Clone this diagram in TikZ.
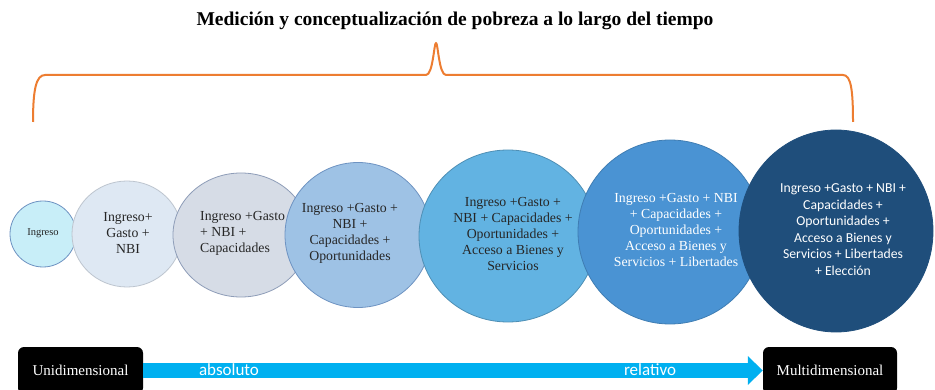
\documentclass[tikz,border=0pt]{standalone}
\usepackage{fontspec}
\setmainfont{Liberation Serif}
\newfontfamily\calib{Carlito}
\usetikzlibrary{shapes.geometric,arrows.meta}
\definecolor{bOne}{HTML}{C8EEF8}
\definecolor{bTwo}{HTML}{DEE8F3}
\definecolor{bThree}{HTML}{D6DCE6}
\definecolor{bFour}{HTML}{9EC2E5}
\definecolor{bFive}{HTML}{62B3E2}
\definecolor{bSix}{HTML}{4A93D3}
\definecolor{bSeven}{HTML}{1F4E7B}
\definecolor{edgeBlue}{HTML}{6E93C2}
\definecolor{edgeGray}{HTML}{8E9DB8}
\definecolor{braceOrange}{HTML}{ED7D31}
\definecolor{arrowCyan}{HTML}{00B0F0}
\definecolor{txtDark}{HTML}{262626}
\begin{document}
\begin{tikzpicture}[x=1pt,y=-1pt,
  bubble/.style={ellipse,inner sep=0pt,draw=edgeBlue,line width=0.8pt},
  btext/.style={align=center,inner sep=0pt,text=txtDark,font=\fontsize{13.8}{16}\selectfont},
  wtext/.style={align=center,inner sep=0pt,text=white,font=\fontsize{13.8}{16}\selectfont},
  blackbox/.style={fill=black,rounded corners=6pt,text=white,inner sep=0pt,font=\fontsize{15}{16}\selectfont},
  scale label/.style={text=white,inner sep=0pt,font=\calib\fontsize{17}{18}\selectfont}
]
\useasboundingbox (0,0) rectangle (935,390);
\fill[white] (0,0) rectangle (935,390);

% title
\node[inner sep=0pt,font=\bfseries\fontsize{19.5}{22}\selectfont] (title) at (455,21) {Medición y conceptualización de pobreza a lo largo del tiempo};

% brace
\draw[braceOrange,line width=2pt,line join=round]
  (33,122) .. controls (33,90) and (36,75) .. (45,75) -- (426,75)
  .. controls (433,75) and (434,43) .. (436,43)
  .. controls (438,43) and (439,75) .. (446,75) -- (843,75)
  .. controls (851,75) and (853,90) .. (853,122);

% bubbles
\node[bubble,fill=bOne,minimum width=66pt,minimum height=66pt] (c1) at (43,234) {};
\node[bubble,fill=bTwo,draw=bTwo!85!black,minimum width=110pt,minimum height=106pt] (c2) at (127,234) {};
\node[bubble,fill=bThree,draw=edgeGray,minimum width=136pt,minimum height=124pt] (c3) at (241,235) {};
\node[bubble,fill=bFour,minimum width=146pt,minimum height=145pt] (c4) at (358,235) {};
\node[bubble,fill=bFive,draw=bFive!80!black,minimum width=178pt,minimum height=172pt] (c5) at (508,236) {};
\node[bubble,fill=bSix,draw=bSix!85!black,minimum width=184pt,minimum height=184pt] (c6) at (670,232) {};
\node[bubble,fill=bSeven,draw=bSeven,minimum width=194pt,minimum height=202pt] (c7) at (836,231) {};

% bubble texts
\node[btext,font=\fontsize{10.5}{12}\selectfont] (t1) at (43,233) {Ingreso};
\node[btext] (t2) at (128,233) {Ingreso+\\Gasto +\\NBI};
\node[btext,align=left,anchor=west] (t3) at (200,233) {Ingreso +Gasto\\+ NBI +\\Capacidades};
\node[btext] (t4) at (350,233) {Ingreso +Gasto +\\NBI +\\Capacidades +\\Oportunidades};
\node[btext] (t5) at (513,233.5) {Ingreso +Gasto +\\NBI + Capacidades +\\Oportunidades +\\Acceso a Bienes y\\Servicios};
\node[wtext] (t6) at (676,230) {Ingreso +Gasto + NBI\\+ Capacidades +\\Oportunidades +\\Acceso a Bienes y\\Servicios + Libertades};
\node[wtext,font=\calib\fontsize{13.7}{16.5}\selectfont] (t7) at (843,229.5) {Ingreso +Gasto + NBI +\\Capacidades +\\Oportunidades +\\Acceso a Bienes y\\Servicios + Libertades\\+ Elección};

% bottom scale
\node[blackbox,minimum width=125pt,minimum height=47pt] (uni) at (80.5,370.5) {Unidimensional};
\node[blackbox,minimum width=134pt,minimum height=47pt] (multi) at (830,370.5) {Multidimensional};
\draw[arrowCyan,line width=15pt,-{Triangle[width=28pt,length=15pt]}] (uni.east) -- (multi.west);
\node[scale label] (abs) at (229,370) {absoluto};
\node[scale label] (rel) at (650,370) {relativo};
\end{tikzpicture}
\end{document}
